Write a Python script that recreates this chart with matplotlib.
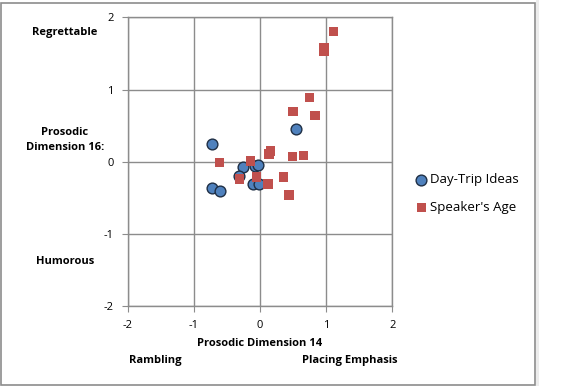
import matplotlib

matplotlib.use('Agg')
import matplotlib.pyplot as plt
from matplotlib.patches import Rectangle

# values
day_trip_x = [-0.72, 0.55, -0.26, -0.08, -0.03, -0.32, -0.11, -0.02, -0.72, -0.61]
day_trip_y = [0.24, 0.45, -0.07, -0.06, -0.04, -0.20, -0.31, -0.31, -0.36, -0.41]

speaker_x = [1.11, 0.97, 0.97, 0.75, 0.50, 0.83, -0.61, -0.14, 0.14, 0.16,
             0.49, 0.66, -0.31, -0.05, 0.12, 0.36, 0.44]
speaker_y = [1.80, 1.58, 1.53, 0.89, 0.70, 0.64, -0.01, 0.01, 0.11, 0.15,
             0.07, 0.09, -0.24, -0.21, -0.31, -0.21, -0.46]

ticks = [-2, -1, 0, 1, 2]

plt.rcParams['font.family'] = ['Open Sans', 'DejaVu Sans']
plt.rcParams['axes.unicode_minus'] = False

fig = plt.figure(figsize=(5.83, 3.86), dpi=100)
ax = fig.add_axes([0.2187, 0.2065, 0.4542, 0.7487])

grid_col = '#8c8c8c'
ax.scatter(day_trip_x, day_trip_y, s=60, marker='o', color='#4F81BD',
           edgecolors='#1f2f45', linewidths=1.0, zorder=3, label='Day-Trip Ideas')
ax.scatter(speaker_x, speaker_y, s=46, marker='s', color='#C0504D',
           edgecolors='none', zorder=4, label="Speaker's Age")

ax.set_xlim(-2, 2)
ax.set_ylim(-2, 2)
ax.set_xticks(ticks)
ax.set_yticks(ticks)
ax.grid(True, color=grid_col, linewidth=1.0)
ax.set_axisbelow(True)
for sp in ax.spines.values():
    sp.set_color(grid_col)
    sp.set_linewidth(1.0)
ax.tick_params(length=4, color=grid_col, labelsize=8, pad=6)

ax.set_xlabel('Prosodic Dimension 14', fontsize=8, fontweight='bold', labelpad=5)

lbl = dict(fontsize=8, fontweight='bold', ha='center', va='center')
fig.text(65 / 583, 1 - 33 / 386, 'Regrettable', **lbl)
fig.text(65 / 583, 1 - 140 / 386, 'Prosodic\nDimension 16:', linespacing=1.4, **lbl)
fig.text(65 / 583, 1 - 261 / 386, 'Humorous', **lbl)
fig.text(155 / 583, 1 - 361 / 386, 'Rambling', **lbl)
fig.text(350 / 583, 1 - 361 / 386, 'Placing Emphasis', **lbl)

ax.legend(loc='center left', bbox_to_anchor=(1.06, 0.39), frameon=False,
          fontsize=9.5, handletextpad=0.15, borderpad=0, labelspacing=1.1,
          handlelength=1.0, scatterpoints=1, markerscale=1.0)

fig.patches.append(Rectangle((1 / 583, 1 / 386), 534 / 583, 382 / 386,
                             transform=fig.transFigure, fill=False,
                             edgecolor='#8c8c8c', linewidth=1.2))
fig.patches.append(Rectangle((536 / 583, 0), 2.5 / 583, 1,
                             transform=fig.transFigure, color='#ececec', lw=0))

fig.savefig('out.png', dpi=100)
